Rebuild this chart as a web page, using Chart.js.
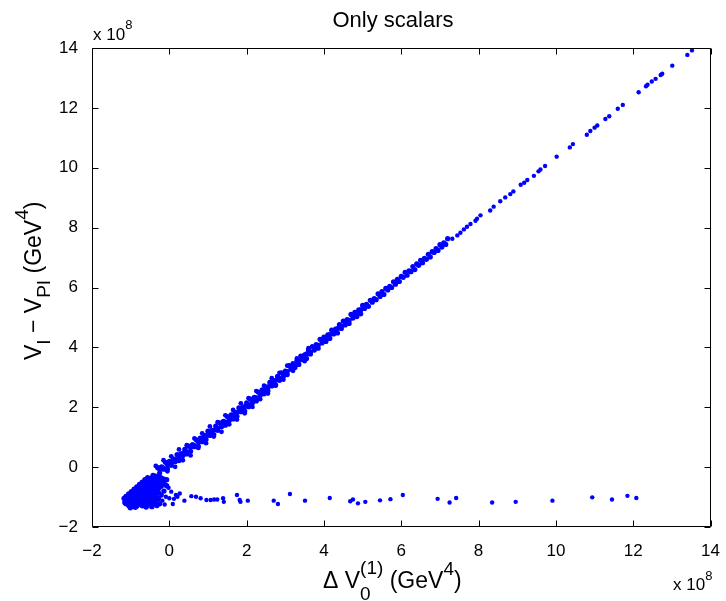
<!DOCTYPE html>
<html>
<head>
<meta charset="utf-8">
<script src="https://cdn.jsdelivr.net/npm/chart.js@4.4.1/dist/chart.umd.min.js"></script>
<style>
html, body { margin: 0; padding: 0; background: #fff; }
</style>
</head>
<body>
<canvas id="myChart" width="726" height="601"></canvas>
<script>
// all values in units of 10^8 GeV^4
const xTicks = [-2, 0, 2, 4, 6, 8, 10, 12, 14];
const yTicks = [-2, 0, 2, 4, 6, 8, 10, 12, 14];

// dense blob at the bottom left
const clusterPoints = [
    [-1.12,-1.22],[-1.12,-1.10],[-1.12,-0.98],
    [-1.05,-1.28],[-1.05,-1.16],[-1.05,-1.04],[-1.05,-0.90],
    [-0.98,-1.31],[-0.98,-1.20],[-0.98,-1.08],[-0.98,-0.96],[-0.98,-0.82],
    [-0.91,-1.25],[-0.91,-1.13],[-0.91,-1.01],[-0.91,-0.88],[-0.91,-0.74],
    [-0.84,-1.30],[-0.84,-1.18],[-0.84,-1.06],[-0.84,-0.93],[-0.84,-0.80],[-0.84,-0.66],
    [-0.77,-1.24],[-0.77,-1.12],[-0.77,-1.00],[-0.77,-0.87],[-0.77,-0.73],[-0.77,-0.58],
    [-0.70,-1.29],[-0.70,-1.16],[-0.70,-1.04],[-0.70,-0.92],[-0.70,-0.79],[-0.70,-0.65],[-0.70,-0.50],
    [-0.63,-1.22],[-0.63,-1.10],[-0.63,-0.97],[-0.63,-0.84],[-0.63,-0.70],[-0.63,-0.55],[-0.63,-0.42],
    [-0.56,-1.27],[-0.56,-1.14],[-0.56,-1.02],[-0.56,-0.88],[-0.56,-0.75],[-0.56,-0.61],[-0.56,-0.47],[-0.56,-0.35],
    [-0.49,-1.20],[-0.49,-1.07],[-0.49,-0.94],[-0.49,-0.80],[-0.49,-0.66],[-0.49,-0.52],[-0.49,-0.38],
    [-0.42,-1.24],[-0.42,-1.10],[-0.42,-0.96],[-0.42,-0.83],[-0.42,-0.69],[-0.42,-0.55],[-0.42,-0.41],[-0.42,-0.28],
    [-0.35,-1.15],[-0.35,-0.98],[-0.35,-0.84],[-0.35,-0.70],[-0.35,-0.57],[-0.35,-0.43],[-0.35,-0.30],
    [-0.28,-1.05],[-0.28,-0.86],[-0.28,-0.71],[-0.28,-0.58],[-0.28,-0.45],[-0.28,-0.33],
    [-0.21,-0.93],[-0.21,-0.64],[-0.21,-0.49],[-0.21,-0.36],
    [-0.14,-0.80],[-0.14,-0.55],[-0.14,-0.40],
    [-0.07,-0.62],[-0.07,-0.42],
    [-1.17,-1.05],[-1.15,-1.18],[-1.01,-1.36],[-0.88,-1.34],[-0.60,-1.33],[-0.45,-1.32],[-0.25,-1.22],[-0.32,-1.28]
];

// the thin rising band: upper, middle and lower rows
const bandUpper = [
    [-0.3,-0.02],[-0.2,0.01],[-0.1,0.16],[0.0,0.19],[0.1,0.27],[0.2,0.42],[0.3,0.44],[0.4,0.59],
    [0.5,0.70],[0.6,0.75],[0.7,0.91],[0.8,0.97],[0.9,1.05],[1.0,1.20],[1.1,1.22],[1.2,1.37],
    [1.3,1.48],[1.4,1.53],[1.5,1.69],[1.6,1.75],[1.7,1.83],[1.8,1.98],[1.9,2.00],[2.0,2.15],
    [2.1,2.27],[2.2,2.33],[2.3,2.51],[2.4,2.58],[2.5,2.67],[2.6,2.83],[2.7,2.87],[2.8,3.03],
    [2.9,3.15],[3.0,3.21],[3.1,3.39],[3.2,3.46],[3.3,3.55],[3.4,3.71],[3.5,3.75],[3.6,3.91],
    [3.7,4.03],[3.8,4.09],[3.9,4.27],[4.0,4.34],[4.1,4.42],[4.2,4.58],[4.3,4.61],[4.4,4.76],
    [4.5,4.88],[4.6,4.93],[4.7,5.10],[4.8,5.17],[4.9,5.25],[5.0,5.40],[5.1,5.44],[5.2,5.57],
    [5.3,5.63],[5.4,5.79],[5.5,5.86],[5.6,5.97],[5.7,6.04],[5.8,6.19],[5.9,6.27],[6.0,6.37],
    [6.1,6.51],[6.2,6.56],[6.3,6.70],[6.4,6.79],[6.5,6.91],[6.6,6.97],[6.7,7.11],[6.8,7.20],
    [6.9,7.30],[7.0,7.43],[7.1,7.49],[7.2,7.63]
];
const bandMiddle = [
    [-0.25,-0.07],[-0.15,-0.03],[-0.05,0.09],[0.05,0.13],[0.15,0.27],[0.25,0.33],[0.35,0.46],[0.45,0.52],
    [0.55,0.66],[0.65,0.72],[0.75,0.85],[0.85,0.91],[0.95,1.05],[1.05,1.11],[1.15,1.24],[1.25,1.30],
    [1.35,1.44],[1.45,1.50],[1.55,1.63],[1.65,1.69],[1.75,1.83],[1.85,1.89],[1.95,2.02],[2.05,2.09],
    [2.15,2.24],[2.25,2.31],[2.35,2.46],[2.45,2.53],[2.55,2.68],[2.65,2.75],[2.75,2.90],[2.85,2.97],
    [2.95,3.12],[3.05,3.19],[3.15,3.34],[3.25,3.41],[3.35,3.56],[3.45,3.63],[3.55,3.78],[3.65,3.85],
    [3.75,4.00],[3.85,4.07],[3.95,4.22],[4.05,4.28],[4.15,4.43],[4.25,4.49],[4.35,4.63],[4.45,4.70],
    [4.55,4.84],[4.65,4.90],[4.75,5.05],[4.85,5.11],[4.95,5.25]
];
const bandLower = [
    [-0.25,-0.20],[-0.15,-0.07],[-0.05,-0.06],[0.05,0.06],[0.15,0.18],[0.25,0.22],[0.35,0.39],[0.45,0.44],
    [0.55,0.53],[0.65,0.68],[0.75,0.70],[0.85,0.85],[0.95,0.92],[1.05,1.06],[1.15,1.09],[1.25,1.23],
    [1.35,1.35],[1.45,1.40],[1.55,1.56],[1.65,1.61],[1.75,1.70],[1.85,1.85],[1.95,1.87],[2.05,2.02],
    [2.15,2.15],[2.25,2.21],[2.35,2.39],[2.45,2.45],[2.55,2.55],[2.65,2.71],[2.75,2.75],[2.85,2.90],
    [2.95,3.03],[3.05,3.09],[3.15,3.27],[3.25,3.33],[3.35,3.43],[3.45,3.59],[3.55,3.63],[3.65,3.78],
    [3.75,3.91],[3.85,3.97],[3.95,4.15],[4.05,4.20],[4.15,4.30],[4.25,4.45],[4.35,4.48],[4.45,4.63],
    [4.55,4.75],[4.65,4.80],[4.75,4.98],[4.85,5.03],[4.95,5.12],[5.05,5.30],[5.15,5.37],[5.25,5.51],
    [5.35,5.59],[5.45,5.70],[5.55,5.77],[5.65,5.92],[5.75,6.00],[5.85,6.11],[5.95,6.20],[6.05,6.34],
    [6.15,6.41],[6.25,6.53],[6.35,6.60],[6.45,6.74],[6.55,6.83],[6.65,6.94],[6.75,7.02],[6.85,7.17],
    [6.95,7.24],[7.05,7.35],[7.15,7.44]
];
// ragged edges of the band where it is widest
const bandEdgeHigh = [
    [-0.35,0.04],[-0.15,0.23],[0.05,0.36],[0.25,0.59],[0.45,0.73],[0.65,0.96],[0.85,1.13],[1.05,1.36],
    [1.25,1.50],[1.45,1.73],[1.65,1.91],[1.85,2.13],[2.05,2.30],[2.25,2.54],[2.45,2.72],[2.65,2.97],
    [2.85,3.15],[3.05,3.39],[3.3,3.63],[3.6,3.97]
];
const bandEdgeLow = [
    [-0.45,-0.46],[-0.25,-0.34],[-0.05,-0.14],[0.15,0.01],[0.35,0.23],[0.55,0.39],[0.75,0.64],[0.95,0.80],
    [1.15,1.02],[1.35,1.18],[1.55,1.43],[1.75,1.59],[1.95,1.80],[2.15,2.01],[2.35,2.27],[2.55,2.46],
    [2.75,2.72],[2.95,2.92],[3.2,3.22],[3.5,3.54]
];

// sparse points towards the top right
const tailPoints = [
    [7.32,7.63],[7.45,7.74],[7.53,7.83],[7.62,7.94],[7.70,8.03],[7.79,8.12],[7.92,8.23],[7.96,8.30],
    [8.05,8.41],[8.30,8.57],[8.39,8.70],[8.56,8.88],[8.69,9.01],[8.82,9.12],[8.90,9.21],[9.09,9.43],
    [9.18,9.50],[9.26,9.59],[9.43,9.73],[9.55,9.88],[9.60,9.94],[9.72,10.06],[10.02,10.37],[10.36,10.68],
    [10.44,10.79],[10.80,11.10],[10.89,11.23],[11.00,11.34],[11.07,11.41],[11.28,11.63],[11.38,11.72],[11.60,11.97],
    [11.73,12.10],[12.14,12.52],[12.33,12.72],[12.37,12.77],[12.48,12.88],[12.58,12.97],[12.71,13.10],[12.75,13.14],
    [13.01,13.41],[13.40,13.77],[13.52,13.92]
];

// the flat row near -1
const floorPoints = [
    [-0.02,-0.69],[-0.09,-0.99],[0.00,-1.04],[0.09,-1.23],[0.17,-0.93],[0.21,-0.99],[0.39,-1.12],[0.57,-0.97],
    [0.69,-0.99],[0.81,-1.04],[0.96,-1.10],[1.07,-1.10],[1.16,-1.08],[1.24,-1.08],[1.39,-1.04],[1.41,-1.16],
    [1.75,-0.93],[1.82,-1.10],[1.84,-1.16],[2.03,-1.12],[2.70,-1.12],[2.81,-1.23],[3.12,-0.90],[3.51,-1.12],
    [4.15,-1.03],[4.68,-1.14],[4.75,-1.08],[4.88,-1.21],[5.07,-1.16],[5.45,-1.11],[5.72,-1.07],[6.04,-0.93],
    [6.94,-1.06],[7.25,-1.18],[7.42,-1.03],[8.35,-1.18],[8.96,-1.16],[9.91,-1.12],[10.94,-1.01],[11.45,-1.08],
    [11.85,-0.96],[12.08,-1.03],
    [0.12,-1.06],[0.27,-0.88],[-0.18,-1.12],[-0.12,-1.25],[0.05,-0.82]
];

const FONT = '"Liberation Sans", Arial, Helvetica, sans-serif';
const BLUE = '#0000ff';

function toXY(list) {
    return list.map(p => ({x: p[0], y: p[1]}));
}

function dataset(list, r) {
    return {
        data: toXY(list),
        pointRadius: r,
        pointBackgroundColor: BLUE,
        pointBorderWidth: 0,
        showLine: false
    };
}

function fmt(v) {
    return v < 0 ? '\u2212' + Math.abs(v) : String(v);
}

// draws text made of pieces, some raised or lowered; a piece with sub and sup stacks both
function drawRich(ctx, parts, x, y) {
    let cx = x;
    parts.forEach(p => {
        ctx.font = p.size + 'px ' + FONT;
        if (p.stack) {
            const w1 = ctx.measureText(p.sub).width;
            const w2 = ctx.measureText(p.sup).width;
            ctx.fillText(p.sub, cx, y + p.subDy);
            ctx.fillText(p.sup, cx, y + p.supDy);
            cx += Math.max(w1, w2);
        } else {
            ctx.fillText(p.t, cx, y + (p.dy || 0));
            cx += ctx.measureText(p.t).width;
        }
    });
}

const matlabFrame = {
    id: 'matlabFrame',
    afterDraw(chart) {
        const {ctx, chartArea: a, scales: {x, y}} = chart;
        ctx.save();
        ctx.strokeStyle = '#000';
        ctx.lineWidth = 1;
        ctx.beginPath();
        const L = Math.round(a.left) + 0.5, R = Math.round(a.right) - 0.5;
        const T = Math.round(a.top) + 0.5, B = Math.round(a.bottom) - 0.5;
        ctx.rect(L, T, R - L, B - T);
        xTicks.forEach(v => {
            const px = Math.round(x.getPixelForValue(v)) + 0.5;
            ctx.moveTo(px, B); ctx.lineTo(px, B - 6);
            ctx.moveTo(px, T); ctx.lineTo(px, T + 6);
        });
        yTicks.forEach(v => {
            const py = Math.round(y.getPixelForValue(v)) + 0.5;
            ctx.moveTo(L, py); ctx.lineTo(L + 6, py);
            ctx.moveTo(R, py); ctx.lineTo(R - 6, py);
        });
        ctx.stroke();

        ctx.fillStyle = '#000';
        ctx.textBaseline = 'alphabetic';

        // title
        ctx.font = '22px ' + FONT;
        ctx.textAlign = 'center';
        ctx.fillText('Only scalars', 393, 27);
        ctx.textAlign = 'left';

        // exponent labels
        drawRich(ctx, [{t: 'x 10', size: 17}, {t: '8', size: 13, dy: -11}], 93, 40);
        drawRich(ctx, [{t: 'x 10', size: 17}, {t: '8', size: 13, dy: -10}], 673, 590);

        // x axis label
        drawRich(ctx, [
            {t: '\u0394 V', size: 23},
            {stack: true, sub: '0', sup: '(1)', size: 19, subDy: 12, supDy: -14},
            {t: ' (GeV', size: 23},
            {t: '4', size: 19, dy: -13},
            {t: ')', size: 23}
        ], 323, 588);

        // y axis label, rotated
        ctx.translate(41, 360);
        ctx.rotate(-Math.PI / 2);
        drawRich(ctx, [
            {t: 'V', size: 23},
            {t: 'I', size: 19, dy: 9},
            {t: ' \u2212 V', size: 23},
            {t: 'PI', size: 19, dy: 9},
            {t: ' (GeV', size: 23},
            {t: '4', size: 19, dy: -13},
            {t: ')', size: 23}
        ], 0, 0);
        ctx.restore();
    }
};

const ctx = document.getElementById('myChart').getContext('2d');

const myChart = new Chart(ctx, {
    type: 'scatter',
    data: {
        datasets: [
            dataset(clusterPoints, 2.7),
            dataset(bandUpper, 2.6),
            dataset(bandMiddle, 2.6),
            dataset(bandLower, 2.6),
            dataset(bandEdgeHigh, 2.4),
            dataset(bandEdgeLow, 2.4),
            dataset(tailPoints, 2.2),
            dataset(floorPoints, 2.2)
        ]
    },
    options: {
        responsive: false,
        animation: false,
        layout: {padding: {top: 48, right: 11, left: 0, bottom: 0}},
        plugins: {
            legend: {display: false},
            tooltip: {enabled: false},
            title: {display: false}
        },
        scales: {
            x: {
                type: 'linear',
                min: -2,
                max: 14,
                afterBuildTicks: s => { s.ticks = xTicks.map(v => ({value: v})); },
                afterFit: s => { s.height = 74; },
                grid: {display: false},
                border: {display: false},
                ticks: {
                    color: '#000',
                    font: {size: 17, family: FONT},
                    padding: 6,
                    maxRotation: 0,
                    autoSkip: false,
                    callback: v => fmt(v)
                }
            },
            y: {
                type: 'linear',
                min: -2,
                max: 14,
                afterBuildTicks: s => { s.ticks = yTicks.map(v => ({value: v})); },
                afterFit: s => { s.width = 92; },
                grid: {display: false},
                border: {display: false},
                ticks: {
                    color: '#000',
                    font: {size: 17, family: FONT},
                    padding: 6,
                    autoSkip: false,
                    callback: v => fmt(v)
                }
            }
        }
    },
    plugins: [matlabFrame]
});
</script>
</body>
</html>
